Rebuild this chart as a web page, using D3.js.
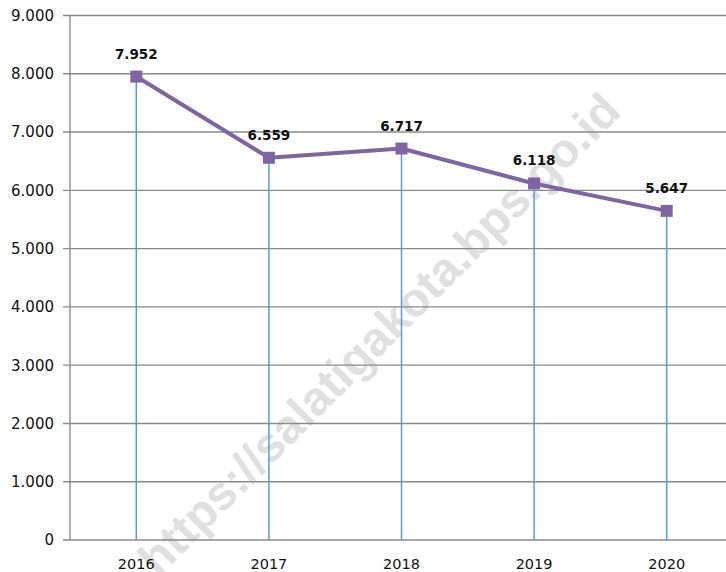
<!DOCTYPE html>
<html><head><meta charset="utf-8">
<script src="https://cdn.jsdelivr.net/npm/d3@7"></script>
<style>html,body{margin:0;padding:0;background:#fff;}svg{display:block;}</style>
</head><body>
<script>
const years = ["2016","2017","2018","2019","2020"];
const values = [7952, 6559, 6717, 6118, 5647];
const yTicks = [0,1000,2000,3000,4000,5000,6000,7000,8000,9000];

const W = 726, H = 572;
const svg = d3.select("body").append("svg").attr("width", W).attr("height", H);

const x = d3.scaleBand().domain(years).range([70, 733]);
const y = d3.scaleLinear().domain([0, 9000]).range([540, 15.5]);
const fmt = v => v === 0 ? "0" : d3.format(",")(v).replace(/,/g, ".");

// watermark
svg.append("text")
  .attr("transform", "translate(379,334) rotate(-45)")
  .attr("text-anchor", "middle")
  .attr("dominant-baseline", "central")
  .style("font-family", "Liberation Sans, Arial, sans-serif")
  .style("font-weight", "bold")
  .style("font-size", "47.5px")
  .style("fill", "#e0e0e0")
  .text("https://salatigakota.bps.go.id");

// gridlines
svg.append("g").selectAll("line").data(yTicks).join("line")
  .attr("x1", 63).attr("x2", W)
  .attr("y1", d => y(d)).attr("y2", d => y(d))
  .attr("stroke", "#8a8a8a").attr("stroke-width", 1.4);

// y axis line
svg.append("line").attr("x1", 70).attr("x2", 70)
  .attr("y1", y(9000)).attr("y2", y(0))
  .attr("stroke", "#8a8a8a").attr("stroke-width", 1.4);

// y tick labels
svg.append("g").selectAll("text").data(yTicks).join("text")
  .attr("x", 54).attr("y", d => y(d))
  .attr("text-anchor", "end").attr("dy", "0.36em")
  .style("font-family", "DejaVu Sans, Verdana, sans-serif")
  .style("font-size", "15px").style("fill", "#111")
  .text(fmt);

// x labels
svg.append("g").selectAll("text").data(years).join("text")
  .attr("x", d => x(d) + x.bandwidth()/2).attr("y", 569)
  .attr("text-anchor", "middle")
  .style("font-family", "DejaVu Sans, Verdana, sans-serif")
  .style("font-size", "14.5px").style("fill", "#111")
  .text(d => d);

const pts = years.map((yr, i) => ({yr, v: values[i]}));
const cx = d => x(d.yr) + x.bandwidth()/2;

// drop lines
svg.append("g").selectAll("line").data(pts).join("line")
  .attr("x1", cx).attr("x2", cx)
  .attr("y1", d => y(d.v)).attr("y2", y(0))
  .attr("stroke", "#5b9bd5").attr("stroke-width", 1.5);

// line
svg.append("path").datum(pts)
  .attr("d", d3.line().x(cx).y(d => y(d.v)))
  .attr("fill", "none").attr("stroke", "#8064a2").attr("stroke-width", 4)
  .attr("stroke-linejoin", "round");

// markers
svg.append("g").selectAll("rect").data(pts).join("rect")
  .attr("x", d => cx(d) - 6).attr("y", d => y(d.v) - 6)
  .attr("width", 12).attr("height", 12)
  .attr("fill", "#8064a2");

// data labels
svg.append("g").selectAll("text").data(pts).join("text")
  .attr("x", cx).attr("y", d => y(d.v) - 18)
  .attr("text-anchor", "middle")
  .style("font-family", "DejaVu Sans, Verdana, sans-serif")
  .style("font-weight", "bold")
  .style("font-size", "13.5px").style("fill", "#111")
  .text(d => fmt(d.v));
</script>
</body></html>
